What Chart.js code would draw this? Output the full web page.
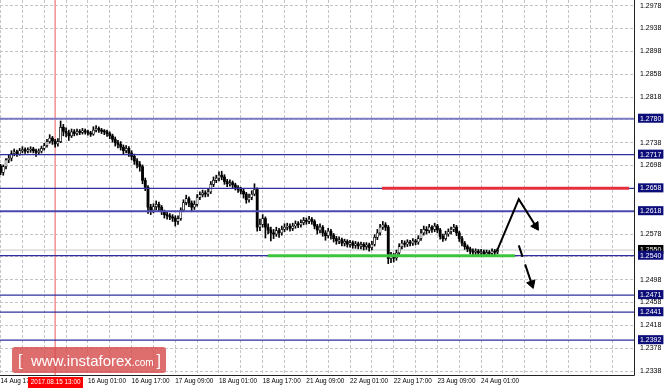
<!DOCTYPE html>
<html>
<head>
<meta charset="utf-8">
<title>GBP/USD H1</title>
<script src="https://cdn.jsdelivr.net/npm/chart.js@4.4.1/dist/chart.umd.min.js"></script>
<style>
html,body{margin:0;padding:0;background:#fff;overflow:hidden}
canvas{display:block}
</style>
</head>
<body>
<canvas id="chart" width="665" height="389"></canvas>
<script>
// ---- hourly candles, bar 0 = 14 Aug 17:00 ----
const open = [
1.2697,1.2686,1.2696,1.2708,1.2711,1.2719,1.2722,1.2718,1.2724,1.2726,
1.2723,1.2725,1.2727,1.2724,1.2721,1.2723,1.2728,1.2733,1.2740,1.2746,
1.2741,1.2736,1.2740,1.2765,1.2758,1.2755,1.2750,1.2757,1.2754,1.2758,
1.2756,1.2759,1.2757,1.2755,1.2753,1.2760,1.2763,1.2760,1.2758,1.2757,
1.2754,1.2750,1.2744,1.2738,1.2735,1.2730,1.2724,1.2728,1.2720,1.2714,
1.2706,1.2700,1.2696,1.2672,1.2660,1.2625,1.2620,1.2626,1.2630,1.2625,
1.2617,1.2612,1.2610,1.2608,1.2606,1.2600,1.2605,1.2620,1.2633,1.2640,
1.2632,1.2625,1.2630,1.2642,1.2647,1.2650,1.2648,1.2652,1.2665,1.2672,
1.2676,1.2681,1.2678,1.2670,1.2666,1.2668,1.2664,1.2660,1.2656,1.2653,
1.2648,1.2638,1.2642,1.2648,1.2656,1.2590,1.2595,1.2605,1.2590,1.2585,
1.2580,1.2578,1.2584,1.2580,1.2586,1.2590,1.2592,1.2588,1.2592,1.2596,
1.2594,1.2598,1.2602,1.2600,1.2604,1.2600,1.2592,1.2585,1.2590,1.2580,
1.2575,1.2583,1.2576,1.2570,1.2566,1.2568,1.2562,1.2565,1.2560,1.2563,
1.2558,1.2561,1.2557,1.2560,1.2556,1.2559,1.2554,1.2560,1.2572,1.2580,
1.2590,1.2594,1.2590,1.2535,1.2540,1.2536,1.2545,1.2556,1.2562,1.2560,
1.2564,1.2562,1.2566,1.2564,1.2570,1.2580,1.2586,1.2584,1.2590,1.2586,
1.2592,1.2585,1.2574,1.2570,1.2578,1.2582,1.2586,1.2590,1.2580,1.2570,
1.2562,1.2556,1.2552,1.2548,1.2546,1.2548,1.2545,1.2547,1.2543,1.2546,
1.2544,1.2548,1.2546];
const high = [
1.2700,1.2699,1.2710,1.2716,1.2724,1.2727,1.2725,1.2728,1.2731,1.2729,
1.2729,1.2731,1.2730,1.2727,1.2727,1.2732,1.2737,1.2744,1.2752,1.2749,
1.2744,1.2745,1.2776,1.2770,1.2764,1.2760,1.2762,1.2761,1.2762,1.2761,
1.2763,1.2762,1.2760,1.2758,1.2766,1.2768,1.2766,1.2763,1.2761,1.2760,
1.2757,1.2753,1.2748,1.2742,1.2740,1.2734,1.2733,1.2731,1.2724,1.2718,
1.2710,1.2705,1.2699,1.2676,1.2663,1.2630,1.2631,1.2636,1.2634,1.2628,
1.2620,1.2616,1.2614,1.2612,1.2610,1.2610,1.2624,1.2638,1.2646,1.2643,
1.2636,1.2636,1.2647,1.2652,1.2655,1.2654,1.2658,1.2670,1.2678,1.2681,
1.2687,1.2688,1.2682,1.2674,1.2673,1.2671,1.2667,1.2663,1.2660,1.2658,
1.2651,1.2648,1.2654,1.2666,1.2659,1.2604,1.2612,1.2608,1.2596,1.2590,
1.2586,1.2590,1.2588,1.2592,1.2596,1.2597,1.2596,1.2597,1.2601,1.2600,
1.2603,1.2607,1.2606,1.2609,1.2607,1.2603,1.2595,1.2596,1.2593,1.2584,
1.2588,1.2586,1.2579,1.2574,1.2573,1.2571,1.2569,1.2568,1.2567,1.2566,
1.2565,1.2564,1.2564,1.2563,1.2563,1.2562,1.2565,1.2577,1.2586,1.2595,
1.2600,1.2598,1.2593,1.2546,1.2544,1.2550,1.2561,1.2567,1.2566,1.2568,
1.2567,1.2570,1.2569,1.2575,1.2586,1.2592,1.2591,1.2595,1.2593,1.2597,
1.2595,1.2588,1.2578,1.2583,1.2587,1.2590,1.2595,1.2593,1.2583,1.2574,
1.2565,1.2559,1.2555,1.2552,1.2552,1.2551,1.2551,1.2550,1.2550,1.2549,
1.2552,1.2551,1.2553];
const low = [
1.2682,1.2681,1.2692,1.2703,1.2706,1.2715,1.2714,1.2716,1.2720,1.2719,
1.2720,1.2721,1.2720,1.2714,1.2717,1.2720,1.2725,1.2730,1.2737,1.2735,
1.2730,1.2732,1.2738,1.2750,1.2748,1.2742,1.2747,1.2750,1.2751,1.2752,
1.2753,1.2753,1.2751,1.2749,1.2751,1.2757,1.2756,1.2754,1.2752,1.2749,
1.2745,1.2739,1.2732,1.2729,1.2725,1.2718,1.2720,1.2714,1.2708,1.2700,
1.2694,1.2688,1.2666,1.2654,1.2614,1.2612,1.2615,1.2620,1.2619,1.2612,
1.2606,1.2604,1.2603,1.2600,1.2592,1.2595,1.2602,1.2617,1.2629,1.2626,
1.2617,1.2621,1.2627,1.2638,1.2643,1.2643,1.2644,1.2649,1.2661,1.2668,
1.2671,1.2673,1.2665,1.2661,1.2662,1.2659,1.2655,1.2651,1.2648,1.2641,
1.2632,1.2634,1.2638,1.2645,1.2583,1.2584,1.2590,1.2571,1.2578,1.2566,
1.2570,1.2574,1.2572,1.2576,1.2582,1.2585,1.2583,1.2584,1.2588,1.2589,
1.2590,1.2594,1.2595,1.2596,1.2595,1.2587,1.2578,1.2580,1.2574,1.2567,
1.2571,1.2569,1.2564,1.2560,1.2561,1.2557,1.2557,1.2555,1.2555,1.2553,
1.2553,1.2552,1.2552,1.2550,1.2551,1.2548,1.2550,1.2557,1.2568,1.2576,
1.2586,1.2584,1.2526,1.2528,1.2529,1.2532,1.2542,1.2552,1.2555,1.2556,
1.2557,1.2558,1.2559,1.2560,1.2567,1.2576,1.2578,1.2580,1.2581,1.2582,
1.2580,1.2569,1.2565,1.2567,1.2574,1.2578,1.2582,1.2575,1.2565,1.2557,
1.2551,1.2547,1.2543,1.2541,1.2542,1.2540,1.2541,1.2539,1.2540,1.2539,
1.2540,1.2541,1.2543];
const close = [
1.2686,1.2696,1.2708,1.2711,1.2719,1.2722,1.2718,1.2724,1.2726,1.2723,
1.2725,1.2727,1.2724,1.2721,1.2723,1.2728,1.2733,1.2740,1.2746,1.2741,
1.2736,1.2740,1.2765,1.2758,1.2755,1.2750,1.2757,1.2754,1.2758,1.2756,
1.2759,1.2757,1.2755,1.2753,1.2760,1.2763,1.2760,1.2758,1.2757,1.2754,
1.2750,1.2744,1.2738,1.2735,1.2730,1.2724,1.2728,1.2720,1.2714,1.2706,
1.2700,1.2696,1.2672,1.2660,1.2625,1.2620,1.2626,1.2630,1.2625,1.2617,
1.2612,1.2610,1.2608,1.2606,1.2600,1.2605,1.2620,1.2633,1.2640,1.2632,
1.2625,1.2630,1.2642,1.2647,1.2650,1.2648,1.2652,1.2665,1.2672,1.2676,
1.2681,1.2678,1.2670,1.2666,1.2668,1.2664,1.2660,1.2656,1.2653,1.2648,
1.2638,1.2642,1.2648,1.2656,1.2590,1.2595,1.2605,1.2590,1.2585,1.2580,
1.2578,1.2584,1.2580,1.2586,1.2590,1.2592,1.2588,1.2592,1.2596,1.2594,
1.2598,1.2602,1.2600,1.2604,1.2600,1.2592,1.2585,1.2590,1.2580,1.2575,
1.2583,1.2576,1.2570,1.2566,1.2568,1.2562,1.2565,1.2560,1.2563,1.2558,
1.2561,1.2557,1.2560,1.2556,1.2559,1.2554,1.2560,1.2572,1.2580,1.2590,
1.2594,1.2590,1.2535,1.2540,1.2536,1.2545,1.2556,1.2562,1.2560,1.2564,
1.2562,1.2566,1.2564,1.2570,1.2580,1.2586,1.2584,1.2590,1.2586,1.2592,
1.2585,1.2574,1.2570,1.2578,1.2582,1.2586,1.2590,1.2580,1.2570,1.2562,
1.2556,1.2552,1.2548,1.2546,1.2548,1.2545,1.2547,1.2543,1.2546,1.2544,
1.2548,1.2546,1.2550];

// time-axis labels, one every 16 bars starting at bar 0
const xTickLabels = ['14 Aug 17:00','15 Aug 09:00','16 Aug 01:00','16 Aug 17:00','17 Aug 09:00',
  '18 Aug 01:00','18 Aug 17:00','21 Aug 09:00','22 Aug 01:00','22 Aug 17:00','23 Aug 09:00','24 Aug 01:00'];
// price grid ticks
const yGridTicks = [1.2338,1.2378,1.2418,1.2458,1.2498,1.2538,1.2578,1.2618,1.2658,1.2698,
  1.2738,1.2778,1.2818,1.2858,1.2898,1.2938,1.2978];
// horizontal levels
const levels = [1.2780,1.2717,1.2658,1.2618,1.2540,1.2471,1.2441,1.2392];
const bidPrice = 1.2550;
// crosshair
const crosshairBar = 20;
const crosshairLabel = '2017.08.15 13:00';
// highlighted zones [fromBar, toBar, price]
const resistanceZone = [139.7, 230.2, 1.2658];
const supportZone = [97.9, 188.4, 1.2540];
// forecast arrows [bar, price]
const arrowMainBars = [181.7, 189.8, 196.0];
const arrowMainPrices = [1.2547, 1.2639, 1.2592];
const arrowAltBars = [189.8, 194.5];
const arrowAltPrices = [1.2558, 1.2491];

// ---- layout constants ----
const X_MIN = -0.2, X_MAX = 232, Y_MIN = 1.2331, Y_MAX = 1.2988;
const GRID_STEP_BARS = 8, LABEL_STEP_BARS = 16;

const near = (a, b, t = 1e-7) => Math.abs(a - b) < t;
const isLevel = v => levels.some(l => near(l, v));
const isBid = v => near(v, bidPrice);
const isGrid = v => yGridTicks.some(g => near(g, v));
const isBox = v => isLevel(v) || isBid(v);
const isHiddenGrid = v => !isBox(v) && (levels.some(l => near(l, v, 0.0008)) || near(v, bidPrice, 0.0008));

const yTickValues = [bidPrice, ...[...new Set([...yGridTicks, ...levels])].sort((a, b) => a - b)];
const xGridValues = [];
for (let v = 0; v <= X_MAX; v += GRID_STEP_BARS) xGridValues.push(v);

const bodies = close.map((c, i) => ({x: i, y: [open[i], close[i]]}));
const wicks = close.map((c, i) => ({x: i, y: [low[i], high[i]]}));
const bull = i => close[i] >= open[i];

const pts = (xs, ys) => xs.map((x, i) => ({x, y: ys[i]}));
const hline = (p, a = X_MIN, b = X_MAX) => [{x: a, y: p}, {x: b, y: p}];

const levelDatasets = levels.map(p => ({
  type: 'line', data: hline(p),
  borderColor: near(p, 1.2780) ? '#7c7cc4' : (near(p, 1.2618) ? '#4a4aae' : '#2f2fa0'),
  borderWidth: near(p, 1.2780) || near(p, 1.2618) ? 2 : 1.2,
  pointRadius: 0, order: 2
}));

const arrowHead = (n, rot) => ({
  pointStyle: 'triangle',
  pointRadius: c => c.dataIndex === n - 1 ? 5 : 0,
  pointRotation: c => c.dataIndex === n - 1 ? rot : 0,
  pointBackgroundColor: '#000', pointBorderColor: '#000', pointBorderWidth: 1
});

const decor = {
  id: 'decor',
  afterDraw(chart) {
    const {ctx, chartArea: a, scales: {x}} = chart;
    ctx.save();
    // frame
    ctx.strokeStyle = '#222'; ctx.lineWidth = 1;
    ctx.beginPath();
    ctx.moveTo(a.right + 0.5, a.top);
    ctx.lineTo(a.right + 0.5, a.bottom + 0.5);
    ctx.lineTo(a.left, a.bottom + 0.5);
    ctx.stroke();
    // watermark
    ctx.fillStyle = 'rgba(214,72,72,0.80)';
    ctx.beginPath();
    if (ctx.roundRect) ctx.roundRect(12, 347, 154, 26, 3); else ctx.rect(12, 347, 154, 26);
    ctx.fill();
    ctx.fillStyle = '#ffffff';
    ctx.textBaseline = 'alphabetic'; ctx.textAlign = 'left';
    ctx.font = '16px "Liberation Sans"';
    ctx.fillText('[', 18, 366);
    ctx.font = '15px "Liberation Sans"';
    const w1 = ctx.measureText('www.instaforex').width;
    ctx.fillText('www.instaforex', 31, 366);
    ctx.font = '10px "Liberation Sans"';
    const w2 = ctx.measureText('.com').width;
    ctx.fillText('.com', 31 + w1, 366);
    ctx.font = '16px "Liberation Sans"';
    ctx.fillText(']', 31 + w1 + w2 + 3, 366);
    // crosshair time label
    const cx = x.getPixelForValue(crosshairBar);
    ctx.fillStyle = '#ff0000';
    ctx.fillRect(Math.round(cx - 27), a.bottom + 2, 55, 11);
    ctx.fillStyle = '#ffffff';
    ctx.font = '6.4px "Liberation Sans"';
    ctx.textAlign = 'center'; ctx.textBaseline = 'middle';
    ctx.fillText(crosshairLabel, cx + 0.5, a.bottom + 7.5);
    ctx.restore();
  }
};

new Chart(document.getElementById('chart'), {
  type: 'bar',
  data: {
    datasets: [
      Object.assign({type: 'line', data: pts(arrowMainBars, arrowMainPrices), borderColor: '#000', borderWidth: 2, order: 0},
        arrowHead(arrowMainBars.length, 147.5)),
      Object.assign({type: 'line', data: pts(arrowAltBars, arrowAltPrices), borderColor: '#000', borderWidth: 2,
        borderDash: [12, 8, 60, 0], order: 0}, arrowHead(arrowAltBars.length, 161)),
      {type: 'line', data: hline(supportZone[2], supportZone[0], supportZone[1]), borderColor: '#3cc43c', borderWidth: 3, pointRadius: 0, order: 1},
      {type: 'line', data: hline(resistanceZone[2], resistanceZone[0], resistanceZone[1]), borderColor: '#e4303c', borderWidth: 3, pointRadius: 0, order: 1},
      ...levelDatasets,
      {type: 'bar', data: bodies, grouped: false, barThickness: 2.2, minBarLength: 1,
        backgroundColor: c => bull(c.dataIndex) ? '#ffffff' : '#000000',
        borderColor: '#000000', borderWidth: c => bull(c.dataIndex) ? 0.7 : 0, borderSkipped: false, order: 3},
      {type: 'bar', data: wicks, grouped: false, barThickness: 1, backgroundColor: '#000000', borderWidth: 0, order: 4},
      {type: 'line', data: [{x: crosshairBar, y: Y_MIN}, {x: crosshairBar, y: Y_MAX}], borderColor: '#f39090', borderWidth: 1.5, pointRadius: 0, order: 5},
      {type: 'line', data: hline(bidPrice), borderColor: '#c8c8c8', borderWidth: 1, pointRadius: 0, order: 6}
    ]
  },
  options: {
    responsive: false,
    animation: false,
    events: [],
    layout: {padding: 0, autoPadding: false},
    plugins: {legend: {display: false}, tooltip: {enabled: false}},
    scales: {
      x: {
        type: 'linear', min: X_MIN, max: X_MAX, offset: false,
        grid: {offset: false, color: '#c4c4c4', lineWidth: 1, drawTicks: false},
        border: {display: false, dash: [3, 2]},
        afterBuildTicks: s => { s.ticks = xGridValues.map(v => ({value: v})); },
        afterFit: s => { s.height = 14; s.paddingLeft = 0; s.paddingRight = 0; },
        ticks: {
          autoSkip: false, maxRotation: 0, minRotation: 0, align: 'start', padding: 2,
          color: '#000', font: {family: 'Liberation Sans', size: 6.4},
          callback: v => (v % LABEL_STEP_BARS === 0 && v / LABEL_STEP_BARS < xTickLabels.length) ? xTickLabels[v / LABEL_STEP_BARS] : ''
        }
      },
      y: {
        type: 'linear', position: 'right', min: Y_MIN, max: Y_MAX, beginAtZero: false,
        grid: {color: c => isGrid(c.tick.value) ? '#c4c4c4' : 'rgba(0,0,0,0)', lineWidth: 1, drawTicks: false},
        border: {display: false, dash: [3, 2]},
        afterBuildTicks: s => { s.ticks = yTickValues.map(v => ({value: v})); },
        afterFit: s => { s.width = 31; s.paddingTop = 0; s.paddingBottom = 0; },
        ticks: {
          autoSkip: false, padding: 6,
          font: {family: 'Liberation Sans', size: 7, lineHeight: 1.15},
          color: c => isBox(c.tick.value) ? '#ffffff' : '#000000',
          showLabelBackdrop: c => isBox(c.tick.value),
          backdropColor: c => isBid(c.tick.value) ? '#000000' : '#0d0d7a',
          backdropPadding: {left: 2, right: 2, top: 1, bottom: 0},
          callback: v => isHiddenGrid(v) ? '' : Number(v).toFixed(4)
        }
      }
    }
  },
  plugins: [decor]
});
</script>
</body>
</html>
